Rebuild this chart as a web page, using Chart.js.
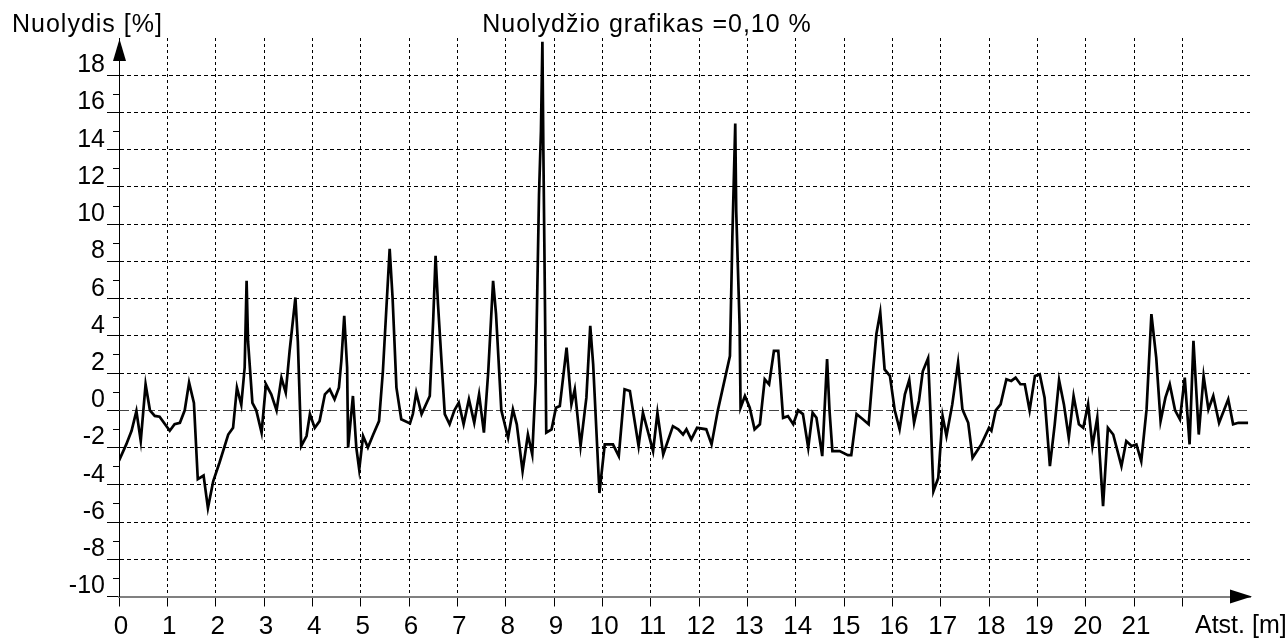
<!DOCTYPE html>
<html>
<head>
<meta charset="utf-8">
<script src="https://cdn.jsdelivr.net/npm/chart.js@4/dist/chart.umd.min.js"></script>
<style>
html,body{margin:0;padding:0;background:#fff}
#wrap{width:1287px;height:639px;position:relative}
</style>
</head>
<body>
<div id="wrap"><canvas id="c"></canvas></div>
<script>
/* Nuolydzio grafikas - slope along distance */
const distM=[0,0.15,0.26,0.36,0.45,0.55,0.64,0.74,0.84,1.05,1.15,1.26,1.36,1.45,1.55,1.63,1.75,1.84,1.95,2.08,
 2.26,2.36,2.44,2.53,2.60,2.64,2.67,2.76,2.84,2.95,3.04,3.15,3.26,3.36,3.45,3.53,3.65,3.70,3.77,3.88,
 3.95,4.05,4.15,4.26,4.36,4.46,4.55,4.60,4.66,4.72,4.74,4.84,4.91,4.97,5.05,5.15,5.26,5.38,5.46,5.60,
 5.66,5.74,5.84,6.02,6.08,6.15,6.26,6.43,6.50,6.55,6.60,6.74,6.84,6.94,7.03,7.13,7.24,7.35,7.45,7.55,
 7.64,7.74,7.80,7.91,8.05,8.15,8.23,8.35,8.46,8.55,8.62,8.69,8.73,8.76,8.78,8.80,8.84,8.95,9.04,9.12,
 9.26,9.36,9.43,9.55,9.67,9.75,9.81,9.94,10.05,10.22,10.34,10.46,10.57,10.75,10.84,11.05,11.14,11.26,11.46,11.57,
 11.67,11.74,11.84,11.96,12.15,12.26,12.39,12.64,12.69,12.75,12.77,12.84,12.86,12.95,13.05,13.15,13.26,13.36,13.45,13.55,
 13.64,13.74,13.84,13.95,14.05,14.15,14.26,14.35,14.43,14.55,14.65,14.70,14.76,14.91,15.08,15.15,15.26,15.39,15.51,15.60,
 15.67,15.75,15.84,15.95,16.05,16.15,16.26,16.35,16.45,16.55,16.63,16.74,16.79,16.85,16.95,17.04,17.12,17.24,17.36,17.45,
 17.57,17.66,17.84,18.00,18.05,18.14,18.24,18.36,18.46,18.55,18.65,18.74,18.84,18.95,19.05,19.15,19.26,19.36,19.45,19.55,
 19.65,19.75,19.86,19.95,20.05,20.14,20.24,20.36,20.46,20.57,20.74,20.84,20.95,21.05,21.15,21.26,21.36,21.46,21.55,21.65,
 21.74,21.85,21.95,22.05,22.15,22.23,22.34,22.44,22.54,22.64,22.76,22.95,23.05,23.16,23.36];
const slopePct=[-2.7,-1.83,-1.1,-0.04,-1.65,1.4,0,-0.3,-0.34,-1.1,-0.75,-0.67,0,1.49,0.4,-3.7,-3.5,-5.25,-3.8,-2.8,
 -1.3,-0.94,1.22,0.3,2.3,6.96,3.7,0.4,0,-1.2,1.4,0.86,0,1.75,0.95,3.2,6.06,3.7,-1.92,-1.38,
 -0.2,-0.94,-0.58,0.86,1.13,0.59,1.22,2.65,5.08,2.3,-2.0,0.77,-2.0,-3.18,-1.38,-2.0,-1.3,-0.58,2.1,8.67,
 6.06,1.22,-0.48,-0.7,-0.2,0.95,-0.2,0.77,4.81,8.3,5.7,-0.2,-0.75,0,0.41,-0.75,0.59,-0.67,0.86,-1.2,
 2.1,6.96,5.2,0,-1.47,0.05,-0.75,-3.27,-1.3,-2.37,1.5,11.6,15,19.8,14,9,-1.2,-1.02,0.14,0.23,
 3.37,0.32,1.13,-1.92,0.68,4.54,2.48,-4.44,-1.83,-1.83,-2.46,1.13,1.04,-1.92,-0.13,-2.19,-0.13,-2.37,-0.85,-1.02,
 -1.3,-1.02,-1.56,-0.94,-1.02,-1.83,0,2.92,9.3,15.4,10.7,4.6,0.14,0.77,0.14,-1.02,-0.75,1.67,1.4,3.19,
 3.19,-0.4,-0.31,-0.75,0,-0.2,-2.0,-0.13,-0.4,-2.46,2.75,0,-2.19,-2.19,-2.41,-2.41,-0.2,-0.48,-0.75,2.1,
 4.1,5.26,2.2,1.85,0,-1.02,0.86,1.63,-0.67,0.5,2.1,2.8,-0.2,-4.35,-3.63,-0.31,-1.38,0.32,2.56,0.05,
 -0.67,-2.55,-1.83,-0.94,-1.1,0,0.32,1.67,1.58,1.76,1.4,1.4,0,1.85,1.94,0.68,-3.0,-0.75,1.62,0.32,
 -1.47,0.77,-0.75,-0.94,0.32,-1.92,-0.4,-5.15,-0.94,-1.3,-3.0,-1.65,-1.92,-1.83,-2.73,0.05,5.17,2.83,-0.58,0.68,
 1.4,0,-0.48,1.76,-1.83,3.73,-1.3,1.85,0.05,0.77,-0.67,0.59,-0.75,-0.67,-0.67];
const xRange=[0,23.4],xLastLabel=21,xLastTick=22;
const yRange=[-10,20],yLastTick=18;
const titleTxt='Nuolydžio grafikas =0,10 %',yName='Nuolydis [%]',xName='Atst. [m]';
const FF='"Liberation Sans", Arial, sans-serif';

const pts=distM.map(function(x,i){return{x:x,y:slopePct[i]}});

const deco={id:'deco',
 beforeDatasetsDraw:function(c){
  var g=c.ctx,a=c.chartArea,y0=Math.round(c.scales.y.getPixelForValue(0))+0.5;
  g.save();g.strokeStyle='#444';g.lineWidth=1;g.setLineDash([10,3]);
  g.beginPath();g.moveTo(a.left,y0);g.lineTo(a.right,y0);g.stroke();g.restore()
 },
 afterDraw:function(c){
  var g=c.ctx,a=c.chartArea,ys=c.scales.y;
  g.save();g.strokeStyle='#000';g.lineWidth=1;
  // minor ticks on odd values
  for(var v=yRange[0]+1;v<yLastTick;v+=2){
   var p=Math.round(ys.getPixelForValue(v))+0.5;
   g.beginPath();g.moveTo(a.left-6,p);g.lineTo(a.left,p);g.stroke()
  }
  // arrows
  g.fillStyle='#000';
  g.beginPath();g.moveTo(a.left+0.5,a.top+1);g.lineTo(a.left-6,a.top+23);g.lineTo(a.left+7,a.top+23);g.closePath();g.fill();
  g.beginPath();g.moveTo(a.right+2,a.bottom);g.lineTo(a.right-20,a.bottom-7);g.lineTo(a.right-20,a.bottom+7);g.closePath();g.fill();
  // texts
  g.font='25px '+FF;g.textBaseline='alphabetic';
  var ls='letterSpacing' in g;
  if(ls)g.letterSpacing='1px';
  g.textAlign='left';g.fillText(yName,12,32);
  g.textAlign='center';g.fillText(titleTxt,647,32);
  if(ls)g.letterSpacing='0px';
  g.textAlign='left';g.fillText(xName,1195,633);
  g.restore()
 }
};

new Chart(document.getElementById('c').getContext('2d'),{
 type:'line',
 data:{datasets:[{data:pts,borderColor:'#000',borderWidth:2.7,pointRadius:0,tension:0,fill:false}]},
 options:{responsive:true,maintainAspectRatio:false,animation:false,
  layout:{autoPadding:false,padding:{left:0,top:38,right:37,bottom:0}},
  plugins:{legend:{display:false},tooltip:{enabled:false},title:{display:false}},
  scales:{
   x:{type:'linear',min:xRange[0],max:xRange[1],
    afterFit:function(s){s.height=42.5},
    afterBuildTicks:function(s){s.ticks=s.ticks.filter(function(t){return Number.isInteger(t.value)&&t.value<=xLastTick})},
    ticks:{stepSize:1,maxRotation:0,autoSkip:false,padding:5,labelOffset:2,color:'#000',font:{family:FF,size:26},
     callback:function(v){return v<=xLastLabel?String(v):''}},
    grid:{color:function(x){return x.tick&&x.tick.value===0?'rgba(0,0,0,0)':'#000'},tickColor:'#000',tickLength:10,lineWidth:1},
    border:{color:'#808080',width:2,dash:[3,3]}},
   y:{min:yRange[0],max:yRange[1],
    afterFit:function(s){s.width=119},
    afterBuildTicks:function(s){s.ticks=s.ticks.filter(function(t){return t.value<=yLastTick})},
    ticks:{stepSize:2,autoSkip:false,padding:2,labelOffset:-10,color:'#000',font:{family:FF,size:25}},
    grid:{color:function(x){var v=x.tick&&x.tick.value;return v===yRange[0]||v===0?'rgba(0,0,0,0)':'#000'},tickColor:'#000',tickLength:12,lineWidth:1},
    border:{color:'#000',width:1,dash:[4,3]}}
  }
 },
 plugins:[deco]
});
</script>
</body>
</html>
